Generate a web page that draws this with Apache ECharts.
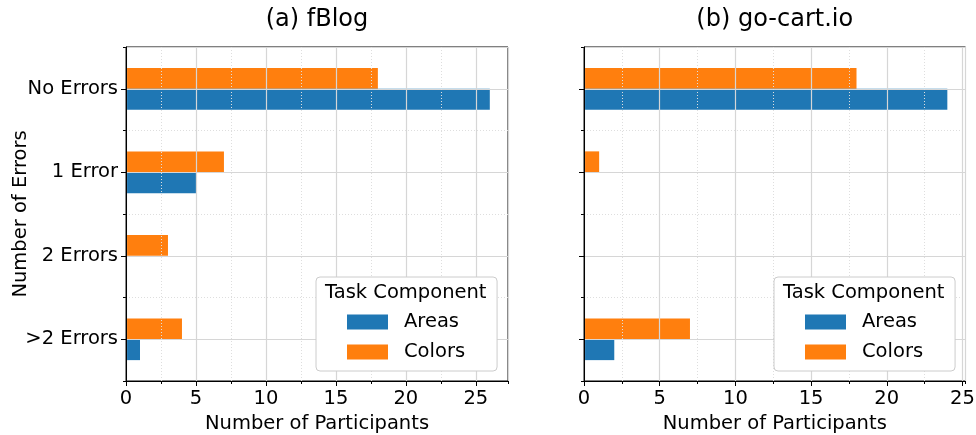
<!DOCTYPE html>
<html><head><meta charset="utf-8">
<script src="https://cdn.jsdelivr.net/npm/echarts@6/dist/echarts.min.js"></script>
<style>html,body{margin:0;padding:0;background:#fff}#c{width:976px;height:435px}</style>
</head><body><div id="c"></div>
<script>
const categories = ['No Errors', '1 Error', '2 Errors', '>2 Errors'];
const seriesNames = ['Areas', 'Colors'];
const fblogAreas = [26, 5, 0, 1];
const fblogColors = [18, 7, 3, 4];
const gocartAreas = [24, 0, 0, 2];
const gocartColors = [18, 1, 0, 7];
const panelTitles = ['(a) fBlog', '(b) go-cart.io'];
const xAxisName = 'Number of Participants';
const yAxisName = 'Number of Errors';
const legendTitle = 'Task Component';

const FONT = 'DejaVu Sans';
const FS = 19.5;
const BLUE = '#1f77b4', ORANGE = '#ff7f0e';
const panels = [
  {areas: fblogAreas, colors: fblogColors, left: 126, width: 382, legendLeft: 316},
  {areas: gocartAreas, colors: gocartColors, left: 584, width: 381.5, legendLeft: 774}
];
const TOP = 47, HEIGHT = 334;

const grid = [], xAxis = [], yAxis = [], series = [], legend = [], title = [], graphic = [];
panels.forEach((p, i) => {
  const M = Math.max(...p.areas, ...p.colors) * 1.05;
  grid.push({left: p.left, top: TOP, width: p.width, height: HEIGHT, show: true, outerBoundsMode: 'none',
    containLabel: false, borderColor: '#000', borderWidth: 1, backgroundColor: 'transparent'});
  xAxis.push({type: 'value', gridIndex: i, position: 'bottom', min: 0, max: M, interval: 5, z: 4,
    axisLine: {show: true, onZero: false, lineStyle: {color: '#000', width: 1}},
    axisTick: {show: true, length: 5, lineStyle: {color: '#000', width: 1}},
    axisLabel: {show: true, fontFamily: FONT, fontSize: FS, color: '#000', margin: 8, showMaxLabel: false},
    splitLine: {show: true, lineStyle: {color: '#d6d6d6', width: 1.2}},
    name: xAxisName, nameLocation: 'middle', nameGap: 33, nameMoveOverlap: false,
    nameTextStyle: {fontFamily: FONT, fontSize: FS, color: '#000'}});
  xAxis.push({type: 'value', gridIndex: i, position: 'bottom', min: 0, max: M, interval: 2.5, z: 3,
    axisLine: {show: false, onZero: false},
    axisTick: {show: true, length: 3, lineStyle: {color: '#000', width: 1}},
    axisLabel: {show: false},
    splitLine: {show: true, lineStyle: {color: '#dedede', width: 1, type: [1, 2]}}});
  yAxis.push({type: 'category', gridIndex: i, position: 'left', data: categories, inverse: true, z: 4,
    axisLine: {show: true, onZero: false, lineStyle: {color: '#000', width: 1}},
    axisTick: {show: true, alignWithLabel: true, length: 5, lineStyle: {color: '#000', width: 1}},
    axisLabel: {show: i === 0, fontFamily: FONT, fontSize: FS, color: '#000', margin: 8},
    splitLine: {show: false},
    name: i === 0 ? yAxisName : '', nameLocation: 'middle', nameGap: 95, nameRotate: 90, nameMoveOverlap: false,
    nameTextStyle: {fontFamily: FONT, fontSize: FS, color: '#000'}});
  yAxis.push({type: 'value', gridIndex: i, position: 'left', min: -0.5, max: 3.5, interval: 1, z: 3,
    axisLine: {show: false, onZero: false},
    axisTick: {show: true, length: 3, lineStyle: {color: '#000', width: 1}},
    axisLabel: {show: false},
    splitLine: {show: true, lineStyle: {color: '#dedede', width: 1, type: [1, 2]}}});
  yAxis.push({type: 'value', gridIndex: i, position: 'left', min: -0.5, max: 3.5, splitNumber: 4, z: 3,
    axisLine: {show: false, onZero: false},
    axisTick: {show: false},
    axisLabel: {show: false},
    splitLine: {show: true, lineStyle: {color: '#d6d6d6', width: 1.2}}});
  series.push({type: 'bar', name: seriesNames[1], xAxisIndex: 2 * i, yAxisIndex: 3 * i,
    data: p.colors, barWidth: '25%', barGap: '0%', itemStyle: {color: ORANGE}, z: 2});
  series.push({type: 'bar', name: seriesNames[0], xAxisIndex: 2 * i, yAxisIndex: 3 * i,
    data: p.areas, barWidth: '25%', barGap: '0%', itemStyle: {color: BLUE}, z: 2});
  legend.push({data: seriesNames, orient: 'vertical', left: p.legendLeft, top: 277,
    padding: [34, 32, 8, 31], itemWidth: 41, itemHeight: 15, itemGap: 8, icon: 'rect',
    borderColor: '#cccccc', borderWidth: 1, borderRadius: 4, backgroundColor: '#ffffff', z: 10,
    selectedMode: false,
    textStyle: {fontFamily: FONT, fontSize: FS, color: '#000', lineHeight: 22, padding: [0, 0, 0, 11]}});
  graphic.push({type: 'text', z: 20, left: p.legendLeft + 9, top: 283,
    style: {text: legendTitle, fontFamily: FONT, fontSize: FS, fill: '#000'}});
  title.push({text: panelTitles[i], left: p.left + p.width / 2, top: 8, textAlign: 'center', padding: 0,
    textStyle: {fontFamily: FONT, fontSize: 24, fontWeight: 'normal', color: '#000'}});
});

const chart = echarts.init(document.getElementById('c'), null, {renderer: 'canvas'});
chart.setOption({animation: false, backgroundColor: '#fff', grid, xAxis, yAxis, series, legend, title, graphic});
</script></body></html>
